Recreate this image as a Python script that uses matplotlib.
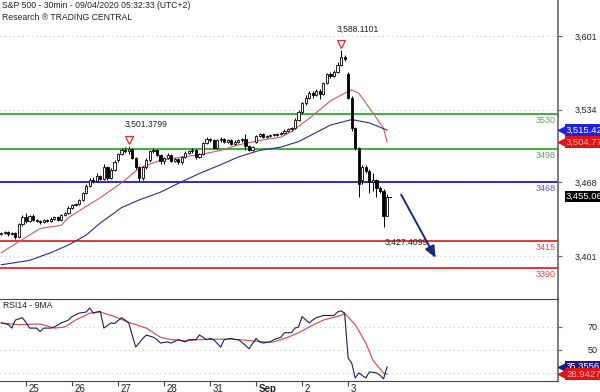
import numpy as np
import matplotlib
matplotlib.use("Agg")
import matplotlib.pyplot as plt
import matplotlib.transforms as mtransforms

plt.rcParams['font.family'] = ['Liberation Sans', 'DejaVu Sans']
FS = 6.2

# ---------------- data ----------------
first_bar = -7
bars_per_day = 13
day_labels = ["25", "26", "27", "28", "31", "Sep", "2", "3"]

opens = [3421, 3422, 3423, 3421, 3422, 3418, 3430,
         3436, 3433, 3437, 3434, 3433, 3432, 3434, 3433, 3435, 3436, 3434, 3438, 3440,
         3445, 3447, 3448, 3452, 3458, 3465, 3470, 3469, 3474, 3471, 3482, 3472, 3479,
         3488, 3494, 3497, 3496, 3498, 3490, 3482, 3472, 3482, 3488, 3496, 3497, 3493,
         3487, 3490, 3493, 3487, 3489, 3486, 3491, 3495, 3496, 3497, 3491, 3494, 3504,
         3507, 3506, 3499, 3506, 3507, 3505, 3506, 3503, 3505, 3506, 3507, 3501, 3497,
         3505, 3510, 3512, 3509, 3510, 3511, 3511, 3512, 3513, 3515, 3516, 3517, 3525,
         3532, 3540, 3545, 3549, 3547, 3551, 3548, 3558, 3566, 3565, 3568, 3575, 3582,
         3566, 3545, 3517, 3499, 3470, 3482, 3478, 3468, 3470, 3463, 3460, 3437]
highs = [3423, 3424, 3424, 3423, 3423, 3431, 3438,
         3440, 3438, 3439, 3435, 3434, 3435, 3435, 3436, 3437, 3437, 3439, 3441, 3446,
         3448, 3449, 3453, 3459, 3466, 3472, 3473, 3476, 3475, 3485, 3483, 3481, 3488,
         3495, 3499, 3500, 3501.3799, 3499, 3491, 3483, 3483, 3490, 3497, 3499, 3498, 3494,
         3491, 3495, 3494, 3490, 3490, 3492, 3496, 3497, 3499, 3498, 3495, 3505, 3509,
         3508, 3507, 3507, 3509, 3508, 3507, 3507, 3506, 3507, 3508, 3512, 3502, 3501,
         3511, 3513, 3513, 3511, 3512, 3512, 3513, 3514, 3516, 3517, 3518, 3526, 3534,
         3541, 3547, 3551, 3551, 3553, 3553, 3559, 3567, 3568, 3570, 3577, 3588.1101, 3584,
         3568, 3546, 3518, 3500, 3484, 3484, 3480, 3476, 3471, 3465, 3462, 3457]
lows = [3420, 3421, 3419, 3420, 3416, 3417, 3428,
        3431, 3432, 3433, 3432, 3430, 3431, 3432, 3432, 3434, 3433, 3433, 3437, 3439,
        3444, 3446, 3447, 3451, 3457, 3464, 3467, 3468, 3470, 3470, 3470, 3471, 3478,
        3486, 3493, 3495, 3494, 3489, 3480, 3469, 3470, 3480, 3486, 3495, 3492, 3485,
        3485, 3489, 3486, 3486, 3485, 3485, 3490, 3494, 3495, 3489, 3490, 3493, 3503,
        3505, 3498, 3498, 3505, 3504, 3504, 3502, 3502, 3504, 3505, 3497, 3496, 3496,
        3504, 3509, 3508, 3508, 3509, 3510, 3510, 3511, 3512, 3514, 3515, 3516, 3524,
        3530, 3538, 3544, 3545, 3546, 3544, 3547, 3557, 3563, 3564, 3567, 3574, 3578,
        3544, 3515, 3497, 3455, 3466, 3476, 3458, 3460, 3455, 3458, 3427.4099, 3450]
closes = [3422, 3423, 3421, 3422, 3418, 3430, 3436,
          3433, 3437, 3434, 3433, 3432, 3434, 3433, 3435, 3436, 3434, 3438, 3440, 3445,
          3447, 3448, 3452, 3458, 3465, 3470, 3469, 3474, 3471, 3482, 3472, 3479, 3486,
          3494, 3497, 3496, 3498, 3490, 3482, 3472, 3482, 3488, 3496, 3497, 3493, 3487,
          3490, 3493, 3487, 3489, 3486, 3491, 3495, 3496, 3497, 3491, 3494, 3504, 3507,
          3506, 3499, 3506, 3507, 3505, 3506, 3503, 3505, 3506, 3507, 3501, 3497, 3500,
          3510, 3512, 3509, 3510, 3511, 3511, 3512, 3513, 3515, 3516, 3517, 3525, 3532,
          3540, 3545, 3549, 3547, 3551, 3548, 3558, 3566, 3565, 3568, 3575, 3582, 3580,
          3545, 3517, 3499, 3466, 3482, 3478, 3468, 3470, 3463, 3460, 3437, 3455.06]

ma_red_bar = [-7, 0, 4, 10, 12, 17, 21, 25, 28, 32, 38, 44, 49, 55, 60, 66, 72, 75, 80, 86, 90, 92, 94, 98, 101, 102]
ma_red = [3404, 3418, 3426, 3429, 3436, 3446, 3454, 3463, 3470, 3481, 3488, 3491, 3493, 3497,
          3502, 3506, 3509, 3514, 3526, 3542, 3549, 3552, 3549, 3531, 3517, 3504.77]
ma_blue_bar = [-7, 1, 7, 12, 17, 21, 27, 32, 38, 43, 49, 55, 60, 66, 72, 77, 86, 92, 97, 102]
ma_blue = [3393, 3397, 3404, 3411, 3420, 3431, 3445, 3452, 3459, 3467, 3476, 3484, 3491, 3497,
           3500, 3505, 3520, 3525, 3522, 3515.42]

rsi_bar = [-7, -5, -4, -3, -1, 0, 1, 3, 4, 5, 7, 8, 10, 12, 13, 15, 17, 18, 19, 20, 21, 22, 24, 25,
           27, 28, 29, 31, 33, 34, 36, 37, 38, 40, 41, 43, 45, 46, 48, 49, 51, 52, 53, 55, 56, 58,
           59, 60, 62, 63, 65, 66, 67, 69, 70, 72, 73, 75, 76, 77, 78, 80, 81, 82, 84, 85, 87, 88,
           89, 90, 91, 92, 93, 94, 96, 97, 99, 100, 101, 102]
rsi = [73.5, 72, 69, 76, 78, 74, 69, 69, 66, 69, 69, 70, 73.5, 76, 79, 82, 83, 86.5, 82, 83, 83.5,
       69, 73.5, 73, 78, 76, 73.5, 52.5, 60, 63, 61, 59, 56, 57, 56, 59, 57, 59, 59, 63, 59, 60, 59,
       52.5, 59, 60, 59, 59, 54, 51, 60, 57, 56, 57, 59, 61, 65, 65, 69, 70, 79, 73.5, 76, 78, 80,
       80, 80, 83, 84, 82, 43, 38.7, 25.6, 30, 25.6, 31, 30, 28, 24.8, 35.3556]
rsi_ma_bar = [-7, -2, 4, 8, 11, 14, 18, 21, 25, 29, 34, 38, 41, 45, 49, 58, 67, 70, 74, 77, 80, 84,
              89, 90, 93, 96, 98, 101, 102]
rsi_ma = [73.5, 72, 72.6, 69, 70, 76, 82, 83, 79, 74, 69, 61, 59, 58, 59, 59.5, 57, 57, 61, 65, 70,
          76, 80, 82, 72, 56, 41, 30, 28.9427]

levels = [3530, 3498, 3468, 3415, 3390]
level_colors = ["#2eaa2e", "#2eaa2e", "#1c1cc0", "#e32626", "#e32626"]
level_text_colors = ["#5aa85a", "#5aa85a", "#5a5ac8", "#e04848", "#e04848"]
price_ticks = [3401, 3468, 3534, 3601]
rsi_ticks = [30, 50, 70]
arrow_from = (105.6, 3459)
arrow_to = (116.1, 3397)

# ---------------- figure ----------------
fig = plt.figure(figsize=(6.0, 3.92), dpi=100)
W, H = 600.0, 392.0
axw = 558 / W
ax = fig.add_axes([0, 1 - 299 / H, axw, 299 / H])
axr = fig.add_axes([0, 1 - 381 / H, axw, 82 / H])

xl = (-26 / 3.54, -26 / 3.54 + 558 / 3.54)
ax.set_xlim(*xl)
axr.set_xlim(*xl)
ax.set_ylim(3361.9, 3633.7)
axr.set_ylim(23.0, 94.3)

xs = np.arange(first_bar, first_bar + len(closes))
o = np.array(opens, float); c = np.array(closes, float)
h = np.array(highs, float); l = np.array(lows, float)

# grid
for t in price_ticks:
    ax.axhline(t, color="#c8c8c8", lw=0.8, ls=(0, (1, 3)), zorder=0)
for t in rsi_ticks:
    axr.axhline(t, color="#c8c8c8", lw=0.8, ls=(0, (1, 3)), zorder=0)

# levels
for lv, lc, tc in zip(levels, level_colors, level_text_colors):
    ax.axhline(lv, color=lc, lw=1.3, zorder=1)
    ax.annotate(str(lv), xy=(556 / 558, lv), xycoords=("axes fraction", "data"),
                xytext=(0, -1.5), textcoords="offset points", ha="right", va="top",
                fontsize=FS + 0.3, color=tc)

# moving averages
ax.plot(ma_red_bar, ma_red, color="#cc5a5a", lw=0.8, zorder=2)
ax.plot(ma_blue_bar, ma_blue, color="#2b2b9a", lw=0.8, zorder=2)

# candles
ax.vlines(xs, l, h, color="black", lw=0.7, zorder=3)
bot = np.minimum(o, c)
hgt = np.maximum(np.abs(c - o), 0.6)
fc = ["white" if cc >= oo else "black" for oo, cc in zip(o, c)]
ax.bar(xs, hgt, bottom=bot, width=0.62, color=fc, edgecolor="black", linewidth=0.6, zorder=4)
ax.plot([xs[-1] + 0.3, xs[-1] + 1.0], [c[-1], c[-1]], color="black", lw=0.7, zorder=4)

# high / low annotations
split = 40
mark_idx = [int(np.argmax(h[:split])), int(np.argmax(h))]
tri_off = ax.transData + mtransforms.ScaledTranslation(0, 6 / 100, fig.dpi_scale_trans)
for idx in mark_idx:
    ax.plot([xs[idx]], [h[idx]], marker="v", ms=6, mfc="white", mec="#d83030", mew=0.9,
            transform=tri_off, zorder=5)
    ax.annotate(f"{h[idx]:,.4f}", xy=(xs[idx], h[idx]), xytext=(-3, 12), textcoords="offset points",
                ha="left", va="bottom", fontsize=FS, color="#222222")
il = int(np.argmin(l[-12:])) + len(l) - 12
ax.annotate(f"{l[il]:,.4f}", xy=(xs[il], l[il]), xytext=(1, -8), textcoords="offset points",
            ha="left", va="top", fontsize=FS, color="#222222")

# arrow
ax.annotate("", xy=arrow_to, xytext=arrow_from,
            arrowprops=dict(arrowstyle="-|>,head_length=0.7,head_width=0.3", color="#1c2a7a", lw=1.4))

# RSI
axr.plot(rsi_ma_bar, rsi_ma, color="#cc5a5a", lw=0.9, zorder=2)
axr.plot(rsi_bar, rsi, color="#1e1e5a", lw=0.8, zorder=3)

# spines / ticks
for a in (ax, axr):
    a.spines["left"].set_visible(False)
    a.spines["right"].set_color("#666666")
    a.spines["right"].set_linewidth(1.2)
    a.yaxis.tick_right()
ax.spines["top"].set_visible(False)
ax.spines["bottom"].set_visible(False)
axr.spines["top"].set_color("#444444")
axr.spines["bottom"].set_color("#444444")
ax.set_xticks([])
ax.set_yticks(price_ticks)
ax.set_yticklabels([f"{t:,}" for t in price_ticks])
ax.tick_params(axis="y", length=3, width=0.8, color="#666666", pad=9.2, labelsize=FS + 0.3,
               labelcolor="#222222")
axr.set_yticks(rsi_ticks)
axr.tick_params(axis="y", length=3, width=0.8, color="#666666", pad=18, labelsize=FS + 0.3,
                labelcolor="#222222")

day_pos = [i * bars_per_day for i in range(len(day_labels))]
axr.set_xticks(day_pos)
axr.set_xticklabels(day_labels)
axr.tick_params(axis="x", length=3.5, width=0.8, color="#444444", pad=-1.5, labelsize=FS + 0.8,
                labelcolor="#222222")
off = mtransforms.ScaledTranslation(2.5 / 100, 0, fig.dpi_scale_trans)
for lab in axr.get_xticklabels():
    lab.set_ha("left")
    lab.set_transform(lab.get_transform() + off)
    if lab.get_text() == "Sep":
        lab.set_fontweight("bold")


def tag(a, y, text, fc, tc, pointer=True):
    tr = mtransforms.blended_transform_factory(a.transAxes, a.transData)
    a.text(566 / 558, y, text, transform=tr, ha="left", va="center", fontsize=FS + 0.6, color=tc,
           bbox=dict(boxstyle="square,pad=0.15", fc=fc, ec="none"), clip_on=False, zorder=10)
    if pointer:
        a.plot([562 / 558], [y], marker="<", ms=6, color=fc, transform=tr, clip_on=False, zorder=10)


tag(ax, ma_blue[-1], f"{ma_blue[-1]:,.2f}", "#2020e0", "white")
tag(ax, ma_red[-1], f"{ma_red[-1]:,.2f}", "#e01414", "#ffb0b0")
tag(ax, closes[-1], f"{closes[-1]:,.2f}", "black", "white", pointer=False)
tag(axr, rsi[-1], f"{rsi[-1]:.4f}", "#1a1a80", "white")
tag(axr, rsi_ma[-1], f"{rsi_ma[-1]:.4f}", "#e01414", "#ffb0b0")

# titles
fig.text(2 / W, 1 - 6 / H, "S&P 500 - 30min - 09/04/2020 05:32:33 (UTC+2)", ha="left", va="center",
         fontsize=FS, color="#222222")
fig.text(2 / W, 1 - 17 / H, "Research \u00ae TRADING CENTRAL", ha="left", va="center",
         fontsize=FS, color="#222222")
fig.text(3 / W, 1 - 305 / H, "RSI14 - 9MA", ha="left", va="center", fontsize=FS, color="#222222")

fig.savefig("out.png", dpi=100)
